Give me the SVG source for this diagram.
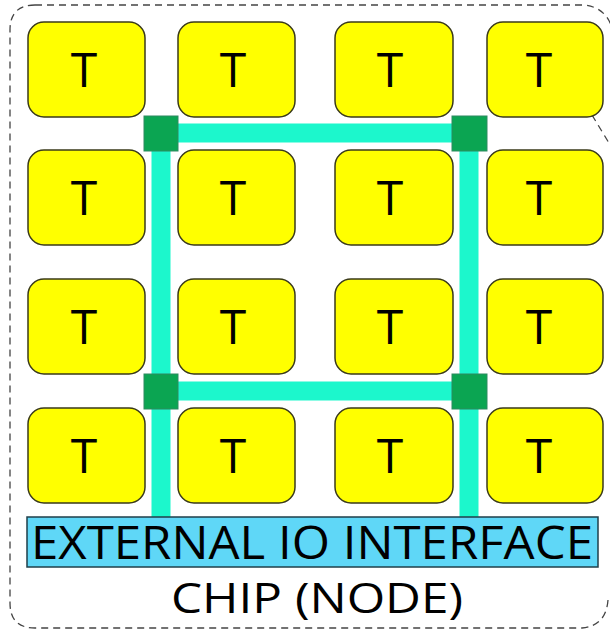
<svg xmlns="http://www.w3.org/2000/svg" width="610" height="631" viewBox="0 0 610 631">
<style>
.tile{fill:#FFFF00;stroke:#3a3a1a;stroke-width:1.5}
.tl{font-family:"Open Sans","Liberation Sans",sans-serif;font-size:48px;fill:#000;text-anchor:middle}
.rt{fill:#0BA552;stroke:#2E8A60;stroke-width:1}
.link{stroke:#1CF7CC;stroke-width:19;fill:none}
.border{fill:none;stroke:#444;stroke-width:1.3;stroke-dasharray:7,5}
.big{font-family:"Open Sans","Liberation Sans",sans-serif;fill:#000;text-anchor:middle}
</style>
<rect width="610" height="631" fill="#fff"/>
<g id="chip">
<path class="border" d="M35,5 H585 Q606,8 612,28 M592,115 L612,148 M608,600 Q606,626 582,628 H35 Q10,628 10,603 V30 Q10,5 35,5"/>
</g>
<g id="tiles">
<g id="t11"><rect class="tile" x="28" y="22" width="117" height="95" rx="16"/><text class="tl" x="84" y="87">T</text></g>
<g id="t12"><rect class="tile" x="178" y="22" width="117" height="95" rx="16"/><text class="tl" x="233" y="87">T</text></g>
<g id="t13"><rect class="tile" x="335" y="22" width="118" height="95" rx="16"/><text class="tl" x="390" y="87">T</text></g>
<g id="t14"><rect class="tile" x="487" y="22" width="116" height="95" rx="16"/><text class="tl" x="539" y="87">T</text></g>
<g id="t21"><rect class="tile" x="28" y="150" width="117" height="95" rx="16"/><text class="tl" x="84" y="215">T</text></g>
<g id="t22"><rect class="tile" x="178" y="150" width="117" height="95" rx="16"/><text class="tl" x="233" y="215">T</text></g>
<g id="t23"><rect class="tile" x="335" y="150" width="118" height="95" rx="16"/><text class="tl" x="390" y="215">T</text></g>
<g id="t24"><rect class="tile" x="487" y="150" width="116" height="95" rx="16"/><text class="tl" x="539" y="215">T</text></g>
<g id="t31"><rect class="tile" x="28" y="279" width="117" height="95" rx="16"/><text class="tl" x="84" y="344">T</text></g>
<g id="t32"><rect class="tile" x="178" y="279" width="117" height="95" rx="16"/><text class="tl" x="233" y="344">T</text></g>
<g id="t33"><rect class="tile" x="335" y="279" width="118" height="95" rx="16"/><text class="tl" x="390" y="344">T</text></g>
<g id="t34"><rect class="tile" x="487" y="279" width="116" height="95" rx="16"/><text class="tl" x="539" y="344">T</text></g>
<g id="t41"><rect class="tile" x="28" y="408" width="117" height="95" rx="16"/><text class="tl" x="84" y="473">T</text></g>
<g id="t42"><rect class="tile" x="178" y="408" width="117" height="95" rx="16"/><text class="tl" x="233" y="473">T</text></g>
<g id="t43"><rect class="tile" x="335" y="408" width="118" height="95" rx="16"/><text class="tl" x="390" y="473">T</text></g>
<g id="t44"><rect class="tile" x="487" y="408" width="116" height="95" rx="16"/><text class="tl" x="539" y="473">T</text></g>
</g>
<g id="connectors">
<line class="link" x1="161" y1="133" x2="470" y2="133"/>
<line class="link" x1="161" y1="391" x2="470" y2="391"/>
<line class="link" x1="161" y1="133" x2="161" y2="518"/>
<line class="link" x1="469" y1="133" x2="469" y2="518"/>
</g>
<g id="routers">
<g id="r1"><rect class="rt" x="144" y="116" width="34" height="35"/></g>
<g id="r2"><rect class="rt" x="452" y="116" width="35" height="35"/></g>
<g id="r3"><rect class="rt" x="144" y="374" width="34" height="35"/></g>
<g id="r4"><rect class="rt" x="452" y="374" width="35" height="35"/></g>
</g>
<g id="io">
<rect x="27" y="517" width="571" height="50" fill="#5FD7F7" stroke="#1f3f4a" stroke-width="1.5"/>
<text class="big" x="312" y="559" font-size="46" textLength="562" lengthAdjust="spacingAndGlyphs">EXTERNAL IO INTERFACE</text>
</g>
<g id="label">
<text class="big" x="317" y="613" font-size="42" textLength="292" lengthAdjust="spacingAndGlyphs">CHIP (NODE)</text>
</g>
</svg>
